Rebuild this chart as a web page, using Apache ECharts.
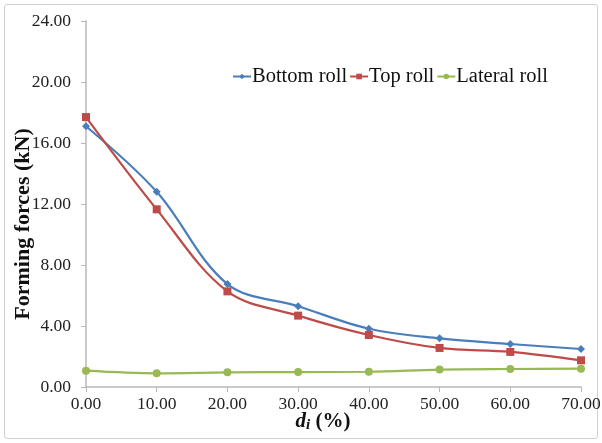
<!DOCTYPE html>
<html><head><meta charset="utf-8">
<script src="https://cdn.jsdelivr.net/npm/echarts@6/dist/echarts.min.js"></script>
<style>html,body{margin:0;padding:0;background:#fff}#frame{position:absolute;left:4px;top:4px;width:594px;height:435px;border:1.5px solid #d0d0d0;border-radius:3px;box-sizing:border-box}#c{position:absolute;left:0;top:0;width:602px;height:443px}</style>
</head><body><div id="frame"></div><div id="c"></div>
<script>
const xValues = [0, 10, 20, 30, 40, 50, 60, 70];
const bottomRoll = [17.1, 12.8, 6.75, 5.3, 3.82, 3.19, 2.82, 2.49];
const topRoll = [17.7, 11.65, 6.27, 4.68, 3.41, 2.56, 2.3, 1.75];
const lateralRoll = [1.07, 0.9, 0.96, 0.98, 1.0, 1.14, 1.18, 1.2];
const seriesNames = ['Bottom roll', 'Top roll', 'Lateral roll'];
const yAxisTitle = 'Forming forces (kN)';
const xAxisTitle = '{d|d}{i|i}{n| (%)}';

const pair = (arr) => xValues.map((x, i) => [x, arr[i]]);
const font = 'Liberation Serif, Times New Roman, serif';
const chart = echarts.init(document.getElementById('c'));
chart.setOption({
  animation: false,
  grid: {left: 86, right: 21, top: 21, bottom: 56, containLabel: false, outerBoundsMode: 'none'},
  legend: {
    left: 227, top: 61, itemGap: 2, itemWidth: 18, itemHeight: 7,
    textStyle: {fontFamily: font, fontSize: 20.5, color: '#111', padding: [0, 0, 0, -4]},
    data: seriesNames
  },
  graphic: [{
    type: 'text', x: 23, y: 224, rotation: Math.PI / 2,
    style: {text: yAxisTitle, fontFamily: font, fontSize: 22, fontWeight: 'bold', fill: '#111', align: 'center', verticalAlign: 'middle'}
  }, {
    type: 'text', x: 323, y: 422,
    style: {text: xAxisTitle, align: 'center', verticalAlign: 'middle', rich: {
      d: {fontFamily: font, fontSize: 21, fontWeight: 'bold', fontStyle: 'italic', fill: '#111'},
      i: {fontFamily: font, fontSize: 15, fontWeight: 'bold', fontStyle: 'italic', fill: '#111', verticalAlign: 'bottom', padding: [7, 0, 0, 0]},
      n: {fontFamily: font, fontSize: 21, fontWeight: 'bold', fill: '#111'}
    }}
  }],
  xAxis: {
    type: 'value', min: 0, max: 70, interval: 10,
    axisLine: {lineStyle: {color: '#b8b8b8', width: 1.5}},
    axisTick: {show: true, length: 5, lineStyle: {color: '#b8b8b8'}},
    splitLine: {show: false},
    axisLabel: {fontFamily: font, fontSize: 17.5, color: '#222', margin: 8, formatter: v => v.toFixed(2)}
  },
  yAxis: {
    type: 'value', min: 0, max: 24, interval: 4,
    axisLine: {show: true, lineStyle: {color: '#b8b8b8', width: 1.5}},
    axisTick: {show: true, length: 5, lineStyle: {color: '#b8b8b8'}},
    splitLine: {show: false},
    axisLabel: {fontFamily: font, fontSize: 17.5, color: '#222', margin: 15, formatter: v => v.toFixed(2)}
  },
  series: [
    {name: seriesNames[0], type: 'line', smooth: 0.35, data: pair(bottomRoll), symbol: 'diamond', symbolSize: 8,
     itemStyle: {color: '#4a7ebb'}, lineStyle: {width: 2.2, color: '#4a7ebb'}},
    {name: seriesNames[1], type: 'line', smooth: 0.35, data: pair(topRoll), symbol: 'rect', symbolSize: 8,
     itemStyle: {color: '#be4b48'}, lineStyle: {width: 2.2, color: '#be4b48'}},
    {name: seriesNames[2], type: 'line', smooth: 0.35, data: pair(lateralRoll), symbol: 'circle', symbolSize: 8,
     itemStyle: {color: '#98b954'}, lineStyle: {width: 2.2, color: '#98b954'}}
  ]
});
</script></body></html>
